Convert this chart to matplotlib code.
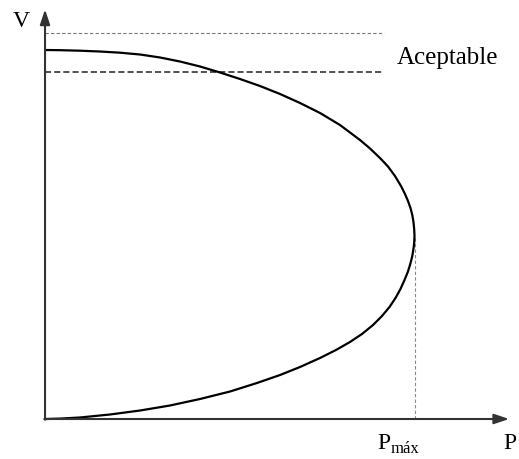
import matplotlib
matplotlib.use("Agg")
import matplotlib.pyplot as plt

# P-V (nose) curve, normalised so that P_max = 1 and no-load voltage = 1
p_upper = [0.0000, 0.0407, 0.0949, 0.1491, 0.2033, 0.2575, 0.3117, 0.3659,
           0.4201, 0.4743, 0.5285, 0.5827, 0.6369, 0.6911, 0.7453, 0.7995,
           0.8537, 0.8808, 0.9079, 0.9295, 0.9485, 0.9648, 0.9756, 0.9837,
           0.9905, 0.9954, 0.9986, 1.0005, 1.0014]
v_upper = [1.0000, 0.9995, 0.9981, 0.9959, 0.9927, 0.9878, 0.9797, 0.9688,
           0.9553, 0.9390, 0.9214, 0.9024, 0.8808, 0.8564, 0.8293, 0.7967,
           0.7561, 0.7331, 0.7073, 0.6843, 0.6585, 0.6314, 0.6098, 0.5908,
           0.5718, 0.5528, 0.5339, 0.5149, 0.4959]
p_lower = [1.0005, 0.9989, 0.9954, 0.9900, 0.9832, 0.9743, 0.9634, 0.9499,
           0.9336, 0.9133, 0.8889, 0.8591, 0.8266, 0.7886, 0.7453, 0.6911,
           0.6369, 0.5745, 0.5014, 0.4201, 0.3388, 0.2575, 0.1762, 0.0949,
           0.0407, 0.0000]
v_lower = [0.4770, 0.4634, 0.4417, 0.4201, 0.3984, 0.3767, 0.3523, 0.3279,
           0.3035, 0.2791, 0.2547, 0.2304, 0.2087, 0.1870, 0.1653, 0.1409,
           0.1192, 0.0976, 0.0745, 0.0542, 0.0366, 0.0230, 0.0122, 0.0041,
           0.0011, 0.0000]

# Acceptable voltage band limits
v_band_high = 1.046
v_band_low = 0.940
p_band_end = 0.92
p_max = 1.0014
v_at_pmax = 0.4959

serif = ["Liberation Serif", "DejaVu Serif"]

fig = plt.figure(figsize=(5.19, 4.59), dpi=100)
ax = fig.add_axes([0, 0, 1, 1])
ax.set_xlim(-0.122, 1.2846)
ax.set_ylim(-0.1084, 1.1355)
ax.axis("off")

# axes with arrowheads
arrow = dict(arrowstyle="-|>,head_length=0.9,head_width=0.3", color="#333333",
             lw=1.5, shrinkA=0, shrinkB=0, mutation_scale=10)
ax.annotate("", xy=(1.258, 0), xytext=(-0.002, 0), arrowprops=arrow)
ax.annotate("", xy=(0, 1.11), xytext=(0, -0.002), arrowprops=arrow)

# band limits
ax.plot([0, p_band_end], [v_band_high, v_band_high], color="#777777", lw=0.8,
        linestyle=(0, (3, 2)))
ax.plot([0, p_band_end], [v_band_low, v_band_low], color="#222222", lw=1.1,
        linestyle=(0, (4, 2)))

# maximum power marker
ax.plot([p_max, p_max], [0, v_at_pmax], color="#888888", lw=0.8,
        linestyle=(0, (3, 2)))

# the curve
ax.plot(p_upper + p_lower, v_upper + v_lower, color="black", lw=1.6,
        solid_capstyle="round", solid_joinstyle="round")

ax.text(0.954, 0.963, "Aceptable", family=serif, fontsize=18, ha="left",
        va="baseline")
ax.text(-0.0867, 1.062, "V", family=serif, fontsize=17, ha="left", va="baseline")
ax.text(1.241, -0.081, "P", family=serif, fontsize=17, ha="left", va="baseline")
ax.text(0.902, -0.081, "P", family=serif, fontsize=17, ha="left", va="baseline")
ax.text(0.937, -0.092, "máx", family=serif, fontsize=12, ha="left",
        va="baseline")

fig.savefig("out.png", dpi=100)
